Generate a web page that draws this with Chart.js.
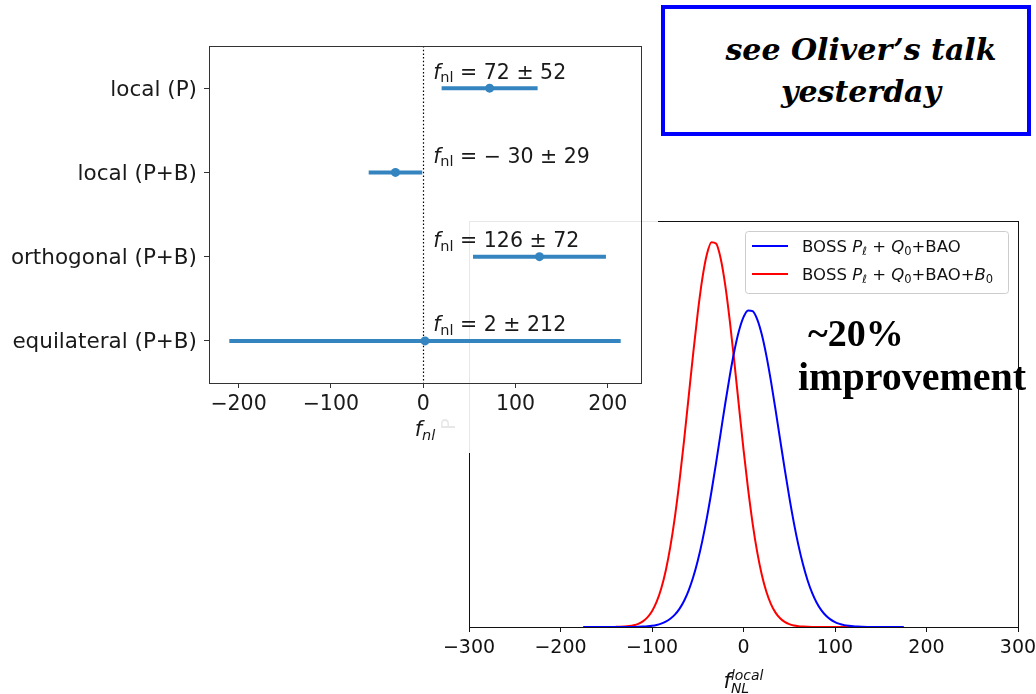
<!DOCTYPE html>
<html>
<head>
<meta charset="utf-8">
<script src="https://cdn.jsdelivr.net/npm/chart.js@4.4.1/dist/chart.umd.min.js"></script>
<style>
body { margin: 0; width: 1036px; height: 694px; position: relative; overflow: hidden; background: #fff; }
#pdf_wrap { position: absolute; left: 400px; top: 200px; width: 700px; height: 494px; }
#fnl_wrap { position: absolute; left: 0; top: 0; width: 658px; height: 453px; background: rgba(255, 255, 255, 0.9); }
#note {
    position: absolute; left: 661px; top: 5px; width: 370px; height: 131px; box-sizing: border-box;
    border: 4px solid #0000ff; padding: 20px 0 0 30px; text-align: center;
    font: italic bold 30px "DejaVu Serif"; line-height: 42px; color: #000;
}
#improve {
    position: absolute; left: 798px; top: 312px; width: 260px;
    font: bold 40px "Liberation Serif"; line-height: 43px; color: #000; white-space: nowrap;
}
</style>
</head>
<body>
<div id="pdf_wrap"><canvas id="chart_pdf" width="700" height="494"></canvas></div>
<div id="fnl_wrap"><canvas id="chart_fnl" width="658" height="453"></canvas></div>
<div id="note">see Oliver’s talk<br>yesterday</div>
<div id="improve"><div style="padding-left:10px; font-size:38px">~20%</div><div>improvement</div></div>
<script>
// 上のパネル: f_nl の制約
const rowLabels = ['local (P)', 'local (P+B)', 'orthogonal (P+B)', 'equilateral (P+B)']
const fnlValue = [72, -30, 126, 2]
const fnlError = [52, 29, 72, 212]
const fnlTicks = [-200, -100, 0, 100, 200]

// 下のパネル: 事後分布 (f_NL^local)
const pdfX = [-175, -170, -165, -160, -155, -150, -145, -140, -135, -130, -125, -120, -115, -110, -105, -100,
    -95, -90, -85, -80, -75, -70, -65, -60, -55, -50, -45, -40, -35, -30, -25, -20, -15, -10, -5, 0,
    5, 10, 15, 20, 25, 30, 35, 40, 45, 50, 55, 60, 65, 70, 75, 80, 85, 90, 95, 100,
    105, 110, 115, 120, 125, 130, 135, 140, 145, 150, 155, 160, 165, 170, 175]
const pdfBoss = [0, 0, 0, 0, 0, 0, 0, 0, 0.0001, 0.0001, 0.0002, 0.0003, 0.0006, 0.0011, 0.0019, 0.0033,
    0.0054, 0.0088, 0.0139, 0.0214, 0.0321, 0.0471, 0.0675, 0.0943, 0.1287, 0.1715, 0.2232, 0.2833, 0.3511, 0.4248, 0.5017, 0.5784, 0.6509, 0.7151, 0.7668, 0.8028,
    0.8204, 0.8184, 0.7970, 0.7577, 0.7031, 0.6369, 0.5632, 0.4862, 0.4097, 0.3370, 0.2706, 0.2122, 0.1624, 0.1213, 0.0884, 0.0629, 0.0437, 0.0297, 0.0196, 0.0127,
    0.0080, 0.0049, 0.0030, 0.0017, 0.0010, 0.0006, 0.0003, 0.0002, 0.0001, 0, 0, 0, 0, 0, 0]
const pdfBossB0 = [0, 0, 0, 0, 0, 0, 0.0001, 0.0003, 0.0006, 0.0012, 0.0024, 0.0046, 0.0083, 0.0147, 0.0250, 0.0409,
    0.0648, 0.0990, 0.1459, 0.2075, 0.2848, 0.3773, 0.4824, 0.5951, 0.7085, 0.8140, 0.9026, 0.9657, 0.9972, 0.9936, 0.9555, 0.8866, 0.7940, 0.6862, 0.5722, 0.4605,
    0.3577, 0.2681, 0.1939, 0.1353, 0.0912, 0.0593, 0.0372, 0.0225, 0.0131, 0.0074, 0.0040, 0.0021, 0.0011, 0.0005, 0.0002, 0.0001, 0, 0, 0, 0,
    0, 0, 0, 0, 0, 0, 0, 0, 0, 0, 0, 0, 0, 0, 0]
const pdfTicks = [-300, -200, -100, 0, 100, 200, 300]

const fnlColor = '#3484bf'

function fmt_tick(v) {
    return v < 0 ? '\u2212' + Math.abs(v) : String(v)
}

function run_font(r) {
    return (r.italic ? 'italic ' : '') + r.size + 'px "DejaVu Sans"'
}

function draw_runs(ctx, x, y, runs, align) {
    let width = 0
    for (const r of runs) {
        ctx.font = run_font(r)
        r.w = ctx.measureText(r.text).width
        width += r.w
    }
    let cx = align == 'center' ? x - width / 2 : x
    ctx.textAlign = 'left'
    ctx.textBaseline = 'alphabetic'
    for (const r of runs) {
        ctx.font = run_font(r)
        ctx.fillText(r.text, cx, y + (r.dy || 0))
        cx += r.w
    }
}

const frame_plugin = {
    id: 'frame',
    afterDraw(chart, args, opts) {
        const a = chart.chartArea
        const ctx = chart.ctx
        ctx.save()
        ctx.strokeStyle = opts.color || '#333'
        ctx.lineWidth = 1
        ctx.strokeRect(Math.round(a.left) + 0.5, Math.round(a.top) + 0.5,
            Math.round(a.right - a.left), Math.round(a.bottom - a.top))
        ctx.restore()
    }
}

const fnl_plugin = {
    id: 'fnl_extra',
    beforeDatasetsDraw(chart) {
        // x=0 の点線
        const ctx = chart.ctx
        const x0 = Math.round(chart.scales.x.getPixelForValue(0)) + 0.5
        ctx.save()
        ctx.strokeStyle = '#000'
        ctx.lineWidth = 1.2
        ctx.setLineDash([1.5, 2.2])
        ctx.beginPath()
        ctx.moveTo(x0, chart.chartArea.top)
        ctx.lineTo(x0, chart.chartArea.bottom)
        ctx.stroke()
        ctx.restore()
    },
    afterDatasetsDraw(chart) {
        const ctx = chart.ctx
        const xs = chart.scales.x
        const ys = chart.scales.y
        ctx.save()
        ctx.fillStyle = '#1a1a1a'
        fnlValue.forEach((v, i) => {
            const val = v < 0 ? '\u2212 ' + Math.abs(v) : String(v)
            draw_runs(ctx, xs.getPixelForValue(0) + 10, ys.getPixelForValue(i) - 9.5, [
                {text: 'f', italic: true, size: 20.5},
                {text: 'nl', size: 14.5, dy: 3.5},
                {text: ' = ' + val + ' \u00b1 ' + fnlError[i], size: 20.5}
            ])
        })
        // 軸ラベル
        const a = chart.chartArea
        draw_runs(ctx, (a.left + a.right) / 2, 436, [
            {text: 'f', italic: true, size: 21},
            {text: 'nl', italic: true, size: 14.5, dy: 3.5}
        ], 'center')
        ctx.restore()
    }
}

const pdf_plugin = {
    id: 'pdf_extra',
    afterDraw(chart) {
        const ctx = chart.ctx
        const a = chart.chartArea
        ctx.save()
        ctx.fillStyle = '#111'
        // x 軸ラベル f_NL^local
        ctx.font = 'italic 21px "DejaVu Sans"'
        const wf = ctx.measureText('f').width
        ctx.font = 'italic 14px "DejaVu Sans"'
        const wl = ctx.measureText('local').width
        const cx = (a.left + a.right) / 2
        const x0 = cx - (wf + wl) / 2
        ctx.textBaseline = 'alphabetic'
        ctx.textAlign = 'left'
        ctx.font = 'italic 21px "DejaVu Sans"'
        ctx.fillText('f', x0, 488)
        ctx.font = 'italic 14px "DejaVu Sans"'
        ctx.fillText('local', x0 + wf, 480)
        ctx.fillText('NL', x0 + wf, 493)

        // y 軸ラベル
        ctx.save()
        ctx.translate(50, (a.top + a.bottom) / 2)
        ctx.rotate(-Math.PI / 2)
        ctx.textAlign = 'center'
        ctx.textBaseline = 'middle'
        ctx.font = '19px "DejaVu Sans"'
        ctx.fillText('P', 0, 0)
        ctx.restore()

        // 凡例
        const lx = 345, ly = 31
        ctx.fillStyle = 'rgba(255,255,255,0.8)'
        ctx.strokeStyle = '#cccccc'
        ctx.lineWidth = 1
        ctx.beginPath()
        ctx.roundRect(lx + 0.5, ly + 0.5, 263, 62, 3)
        ctx.fill()
        ctx.stroke()
        const fs = 16.5, ss = 11.5
        const entries = [
            {color: 'blue', y: 46, runs: [
                {text: 'BOSS ', size: fs}, {text: 'P', italic: true, size: fs},
                {text: '\u2113', italic: true, size: ss, dy: 3}, {text: ' + ', size: fs},
                {text: 'Q', italic: true, size: fs}, {text: '0', size: ss, dy: 3},
                {text: '+BAO', size: fs}]},
            {color: 'red', y: 74, runs: [
                {text: 'BOSS ', size: fs}, {text: 'P', italic: true, size: fs},
                {text: '\u2113', italic: true, size: ss, dy: 3}, {text: ' + ', size: fs},
                {text: 'Q', italic: true, size: fs}, {text: '0', size: ss, dy: 3},
                {text: '+BAO+', size: fs}, {text: 'B', italic: true, size: fs},
                {text: '0', size: ss, dy: 3}]}
        ]
        entries.forEach((e) => {
            ctx.strokeStyle = e.color
            ctx.lineWidth = 2
            ctx.beginPath()
            ctx.moveTo(lx + 7, e.y)
            ctx.lineTo(lx + 43, e.y)
            ctx.stroke()
            ctx.fillStyle = '#111'
            draw_runs(ctx, lx + 57, e.y + 6, e.runs)
        })
        ctx.restore()
    }
}

Chart.defaults.font.family = '"DejaVu Sans"'

// 上のパネル
const fnl_datasets = [{
    label: 'fnl',
    data: fnlValue.map((v, i) => ({x: v, y: i})),
    pointRadius: 4.5,
    pointBackgroundColor: fnlColor,
    pointBorderWidth: 0,
    showLine: false,
    order: 0
}]
fnlValue.forEach((v, i) => {
    fnl_datasets.push({
        label: rowLabels[i],
        data: [{x: v - fnlError[i], y: i}, {x: v + fnlError[i], y: i}],
        showLine: true,
        borderColor: fnlColor,
        borderWidth: 4,
        borderCapStyle: 'butt',
        pointRadius: 0,
        order: 1
    })
})

const chart_fnl = new Chart(document.getElementById('chart_fnl'), {
    type: 'scatter',
    data: {datasets: fnl_datasets},
    options: {
        responsive: false,
        animation: false,
        layout: {padding: {top: 46, right: 17, left: 0, bottom: 0}},
        plugins: {legend: {display: false}, tooltip: {enabled: false}, frame: {color: '#333'}},
        scales: {
            x: {
                type: 'linear', min: -232, max: 236,
                afterBuildTicks: (s) => { s.ticks = fnlTicks.map((v) => ({value: v})) },
                afterFit: (s) => { s.height = 70 },
                grid: {drawOnChartArea: false, tickLength: 5, color: '#333'},
                border: {display: false},
                ticks: {color: '#1a1a1a', font: {size: 20.5}, padding: 4, maxRotation: 0, callback: (v) => fmt_tick(v)}
            },
            y: {
                type: 'linear', min: -0.5, max: 3.5, reverse: true,
                afterBuildTicks: (s) => { s.ticks = rowLabels.map((_, i) => ({value: i})) },
                afterFit: (s) => { s.width = 209 },
                grid: {drawOnChartArea: false, tickLength: 5, color: '#333'},
                border: {display: false},
                ticks: {color: '#1a1a1a', font: {size: 21.5}, padding: 7, labelOffset: 2, autoSkip: false, callback: (v) => rowLabels[v]}
            }
        }
    },
    plugins: [frame_plugin, fnl_plugin]
})

// 下のパネル
const chart_pdf = new Chart(document.getElementById('chart_pdf'), {
    type: 'scatter',
    data: {
        datasets: [
            {
                label: 'BOSS P + Q0 + BAO',
                data: pdfX.map((x, i) => ({x: x, y: pdfBoss[i]})),
                showLine: true, borderColor: 'blue', borderWidth: 2, pointRadius: 0,
                cubicInterpolationMode: 'monotone'
            },
            {
                label: 'BOSS P + Q0 + BAO + B0',
                data: pdfX.map((x, i) => ({x: x, y: pdfBossB0[i]})),
                showLine: true, borderColor: 'red', borderWidth: 2, pointRadius: 0,
                cubicInterpolationMode: 'monotone'
            }
        ]
    },
    options: {
        responsive: false,
        animation: false,
        layout: {padding: {top: 21, right: 82, left: 0, bottom: 0}},
        plugins: {legend: {display: false}, tooltip: {enabled: false}, frame: {color: '#111'}},
        scales: {
            x: {
                type: 'linear', min: -300, max: 300,
                afterBuildTicks: (s) => { s.ticks = pdfTicks.map((v) => ({value: v})) },
                afterFit: (s) => { s.height = 67 },
                grid: {drawOnChartArea: false, tickLength: 5, color: '#111'},
                border: {display: false},
                ticks: {color: '#111', font: {size: 19}, padding: 5, maxRotation: 0, callback: (v) => fmt_tick(v)}
            },
            y: {
                type: 'linear', min: 0, max: 1.052,
                afterFit: (s) => { s.width = 69 },
                grid: {display: false},
                border: {display: false},
                ticks: {display: false}
            }
        }
    },
    plugins: [frame_plugin, pdf_plugin]
})
</script>
</body>
</html>
